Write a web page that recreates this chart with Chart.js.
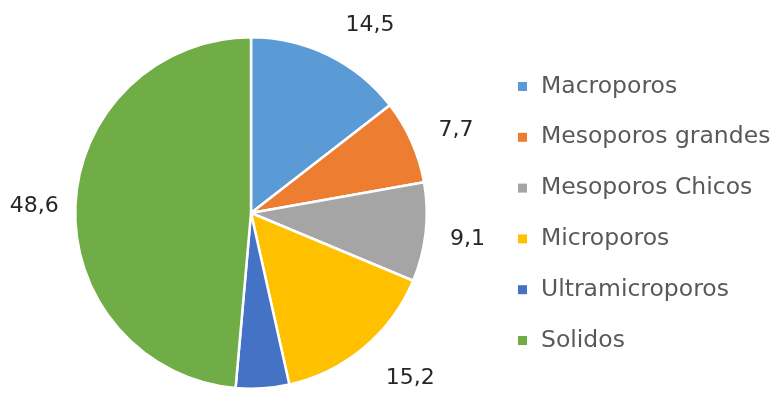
<!DOCTYPE html>
<html>
<head>
<meta charset="utf-8">
<script src="https://cdn.jsdelivr.net/npm/chart.js@4/dist/chart.umd.min.js"></script>
<style>
  html, body { margin: 0; padding: 0; background: #ffffff; }
  #wrap { width: 773px; height: 399px; position: relative; }
</style>
</head>
<body>
<div id="wrap"><canvas id="poros-chart"></canvas></div>
<script>
// Distribución de poros (%)
const categories = ['Macroporos', 'Mesoporos grandes', 'Mesoporos Chicos', 'Microporos', 'Ultramicroporos', 'Solidos'];
const values = [14.5, 7.7, 9.1, 15.2, 4.9, 48.6];
const sliceColors = ['#5B9BD5', '#ED7D31', '#A5A5A5', '#FFC000', '#4472C4', '#70AD47'];
// slices whose value label is left off
const unlabeled = ['Ultramicroporos'];

const fmt = v => v.toFixed(1).replace('.', ',');

// value labels outside each slice; labels near the top/bottom get pushed sideways
const outsideLabels = {
    id: 'outsideLabels',
    afterDatasetsDraw(chart) {
        const ctx = chart.ctx;
        const meta = chart.getDatasetMeta(0);
        const textH = 19;
        ctx.save();
        ctx.font = '22px "DejaVu Sans", sans-serif';
        ctx.fillStyle = '#262626';
        ctx.textAlign = 'center';
        ctx.textBaseline = 'middle';
        meta.data.forEach((arc, i) => {
            if (unlabeled.includes(chart.data.labels[i])) return;
            const p = arc.getProps(['x', 'y', 'startAngle', 'endAngle', 'outerRadius'], true);
            const mid = (p.startAngle + p.endAngle) / 2;
            const c = Math.cos(mid), s = Math.sin(mid);
            const text = fmt(chart.data.datasets[0].data[i]);
            const w = ctx.measureText(text).width;
            const lx = p.x + c * (p.outerRadius + 40) + Math.sign(c) * (w / 2) * Math.abs(s) * 1.1;
            const ly = p.y + s * (p.outerRadius + 27) + s * textH / 2 + 3;
            ctx.fillText(text, lx, ly);
        });
        ctx.restore();
    }
};

// legend column on the right
const sideLegend = {
    id: 'sideLegend',
    afterDraw(chart) {
        const ctx = chart.ctx;
        const ds = chart.data.datasets[0];
        const left = 518, top = 86.5, step = 50.8, box = 9;
        ctx.save();
        ctx.font = '23.5px "DejaVu Sans", sans-serif';
        ctx.textBaseline = 'middle';
        ctx.textAlign = 'left';
        chart.data.labels.forEach((label, i) => {
            const y = top + i * step;
            ctx.fillStyle = ds.backgroundColor[i];
            ctx.fillRect(left, y - box / 2, box, box);
            ctx.fillStyle = '#595959';
            ctx.fillText(label, left + 23, y);
        });
        ctx.restore();
    }
};

new Chart(document.getElementById('poros-chart'), {
    type: 'pie',
    data: {
        labels: categories,
        datasets: [{
            data: values,
            backgroundColor: sliceColors,
            borderColor: '#ffffff',
            borderWidth: 2.5
        }]
    },
    options: {
        responsive: true,
        maintainAspectRatio: false,
        animation: false,
        layout: { padding: { left: 74, right: 345, top: 36, bottom: 9 } },
        plugins: {
            legend: { display: false },
            tooltip: { enabled: false }
        }
    },
    plugins: [outsideLabels, sideLegend]
});
</script>
</body>
</html>
